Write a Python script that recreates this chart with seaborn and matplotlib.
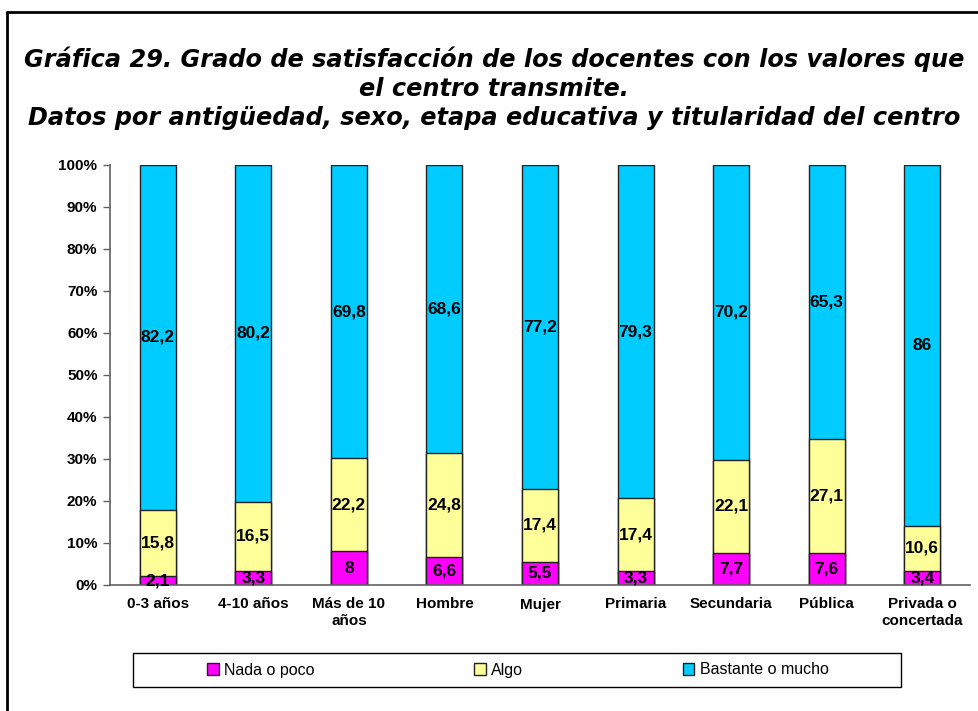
import matplotlib
matplotlib.use("Agg")
import matplotlib.pyplot as plt
import seaborn as sns
import pandas as pd
import numpy as np
from matplotlib.lines import Line2D
from matplotlib.patches import Rectangle, Patch

# --- data ---
categories = ["0-3 años", "4-10 años", "Más de 10\naños", "Hombre", "Mujer",
              "Primaria", "Secundaria", "Pública", "Privada o\nconcertada"]
nada = [2.1, 3.3, 8, 6.6, 5.5, 3.3, 7.7, 7.6, 3.4]
algo = [15.8, 16.5, 22.2, 24.8, 17.4, 17.4, 22.1, 27.1, 10.6]
bastante = [82.2, 80.2, 69.8, 68.6, 77.2, 79.3, 70.2, 65.3, 86]
series_names = ["Nada o poco", "Algo", "Bastante o mucho"]
colors = ["#FF00FF", "#FFFF99", "#00CCFF"]

title = ("Gráfica 29. Grado de satisfacción de los docentes con los valores que\n"
         "el centro transmite.\n"
         "Datos por antigüedad, sexo, etapa educativa y titularidad del centro")

sns.set_theme(style="white")
plt.rcParams["font.family"] = ["Liberation Sans", "DejaVu Sans"]
plt.rcParams["text.color"] = "black"
plt.rcParams["xtick.color"] = "black"
plt.rcParams["ytick.color"] = "black"

# 100% stacked: normalise each column, then build cumulative tops
df = pd.DataFrame({"categoria": categories, "nada": nada, "algo": algo, "bastante": bastante})
total = df[["nada", "algo", "bastante"]].sum(axis=1)
for c in ["nada", "algo", "bastante"]:
    df[c + "_pct"] = df[c] / total * 100
df["top_nada"] = df["nada_pct"]
df["top_algo"] = df["nada_pct"] + df["algo_pct"]
df["top_bastante"] = df["top_algo"] + df["bastante_pct"]

fig = plt.figure(figsize=(9.79, 7.11), dpi=100)
ax = fig.add_axes([110 / 979, 1 - 585 / 711, 860 / 979, 420 / 711])

# draw tallest cumulative layer first, smaller ones on top
for col, color in [("top_bastante", colors[2]), ("top_algo", colors[1]), ("top_nada", colors[0])]:
    sns.barplot(data=df, x="categoria", y=col, color=color, saturation=1,
                width=0.377, edgecolor="#222222", linewidth=1, ax=ax)

# segment labels
for i in range(len(categories)):
    bottoms = [0, df["top_nada"][i], df["top_algo"][i]]
    heights = [df["nada_pct"][i], df["algo_pct"][i], df["bastante_pct"][i]]
    raw = [nada[i], algo[i], bastante[i]]
    for b, h, v in zip(bottoms, heights, raw):
        ax.text(i, b + h / 2, f"{v:g}".replace(".", ","), ha="center", va="center",
                fontsize=12.5, fontweight="bold", color="black")

ax.set_xlim(-0.5, len(categories) - 0.5)
ax.set_ylim(0, 100)
ax.set_xlabel("")
ax.set_ylabel("")

ax.set_yticks(np.arange(0, 101, 10))
ax.set_yticklabels([f"{v}%" for v in range(0, 101, 10)], fontsize=11, fontweight="bold")
ax.set_xticks(np.arange(len(categories)))
ax.set_xticklabels(categories, fontsize=11, fontweight="bold", linespacing=1.2)
ax.set_xticks(np.arange(-0.5, len(categories), 1), minor=True)
ax.tick_params(axis="x", which="major", length=0, pad=9, labelcolor="black")
ax.tick_params(axis="x", which="minor", length=5, width=1, color="#606060", direction="out")
ax.tick_params(axis="y", length=5, width=1, color="#606060", direction="out", left=True,
               pad=4, labelcolor="black")

sns.despine(ax=ax)
for s in ["left", "bottom"]:
    ax.spines[s].set_color("#606060")
    ax.spines[s].set_linewidth(1.2)

fig.text(494 / 979, 1 - 88 / 711, title, ha="center", va="center", fontsize=17.3,
         fontweight="bold", fontstyle="italic", family=["DejaVu Sans"], linespacing=1.27,
         color="black")

handles = [Patch(facecolor=c, edgecolor="#222222", linewidth=1) for c in colors]
fig.legend(handles, series_names, loc="center", bbox_to_anchor=(518 / 979, 1 - 670 / 711),
           ncol=3, frameon=False, fontsize=11.5, handlelength=0.7, handleheight=0.7,
           handletextpad=0.35, columnspacing=10)
fig.add_artist(Rectangle((133 / 979, 1 - 687 / 711), 768 / 979, 34 / 711,
                         transform=fig.transFigure, fill=False, edgecolor="black", lw=1))

# outer chart frame (left and top edges visible)
fig.add_artist(Line2D([7 / 979, 7 / 979], [0, 1 - 12 / 711], transform=fig.transFigure,
                      color="black", lw=2))
fig.add_artist(Line2D([7 / 979, 1], [1 - 12 / 711, 1 - 12 / 711], transform=fig.transFigure,
                      color="black", lw=2))

fig.savefig("out.png", dpi=100)
